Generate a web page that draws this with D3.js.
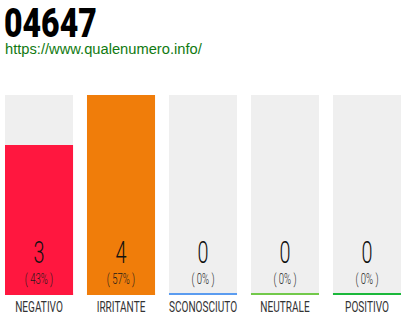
<!DOCTYPE html>
<html>
<head>
<meta charset="utf-8">
<script src="https://cdn.jsdelivr.net/npm/d3@7"></script>
<style>
  body { margin: 0; background: #fff; }
  svg { display: block; }
</style>
</head>
<body>
<svg id="chart" width="410" height="320"></svg>
<script>
// chart data
const title = '04647';
const url = 'https://www.qualenumero.info/';
const categories = ['NEGATIVO', 'IRRITANTE', 'SCONOSCIUTO', 'NEUTRALE', 'POSITIVO'];
const counts = [3, 4, 0, 0, 0];
const percents = ['43%', '57%', '0%', '0%', '0%'];
const colors = ['#ff173f', '#f07d0a', '#5b9cf0', '#72c94a', '#1bb83b'];

const svg = d3.select('#chart');

const margin = {top: 95, bottom: 25, left: 5, right: 9};
const width = 410 - margin.left - margin.right,
      height = 320 - margin.top - margin.bottom;

const g = svg.append('g')
  .attr('transform', `translate(${margin.left},${margin.top})`);

// scales
const x = d3.scaleBand()
  .domain(categories)
  .range([0, width])
  .paddingInner(0.17)
  .paddingOuter(0);

const y = d3.scaleLinear()
  .domain([0, d3.max(counts)])
  .range([height, 0]);

// title + url
svg.append('text')
  .attr('transform', 'translate(4,37) scale(0.8,1)')
  .attr('font-family', 'Roboto, sans-serif')
  .attr('font-weight', 900)
  .attr('font-size', 40)
  .attr('fill', '#000')
  .text(title);

svg.append('text')
  .attr('x', 5)
  .attr('y', 54)
  .attr('font-family', '"Liberation Sans", Arial, sans-serif')
  .attr('font-size', 14.7)
  .attr('fill', '#117a11')
  .text(url);

const cols = g.selectAll('g.col')
  .data(categories)
  .enter()
  .append('g')
  .attr('class', 'col')
  .attr('transform', d => `translate(${x(d)},0)`);

// background
cols.append('rect')
  .attr('width', x.bandwidth())
  .attr('height', height)
  .attr('fill', '#efefef');

// value bar
cols.append('rect')
  .attr('y', (d, i) => y(counts[i]))
  .attr('width', x.bandwidth())
  .attr('height', (d, i) => height - y(counts[i]))
  .attr('fill', (d, i) => colors[i]);

// baseline
cols.append('rect')
  .attr('y', height - 2)
  .attr('width', x.bandwidth())
  .attr('height', 2)
  .attr('fill', (d, i) => colors[i]);

const cx = x.bandwidth() / 2;

cols.append('text')
  .attr('transform', `translate(${cx},${height - 32}) scale(0.62,1)`)
  .attr('text-anchor', 'middle')
  .attr('font-family', 'Roboto, sans-serif')
  .attr('font-weight', 300)
  .attr('font-size', 32)
  .attr('fill', '#111')
  .text((d, i) => counts[i]);

cols.append('text')
  .attr('transform', `translate(${cx},${height - 11}) scale(0.68,1)`)
  .attr('text-anchor', 'middle')
  .attr('font-family', 'Roboto, sans-serif')
  .attr('font-weight', 300)
  .attr('font-size', 14)
  .attr('fill', '#1a1a1a')
  .text((d, i) => '( ' + percents[i] + ' )');

cols.append('text')
  .attr('transform', `translate(${cx},${height + 17}) scale(0.72,1)`)
  .attr('text-anchor', 'middle')
  .attr('font-family', 'Roboto, sans-serif')
  .attr('font-weight', 400)
  .attr('font-size', 14)
  .attr('fill', '#333')
  .text(d => d);
</script>
</body>
</html>
